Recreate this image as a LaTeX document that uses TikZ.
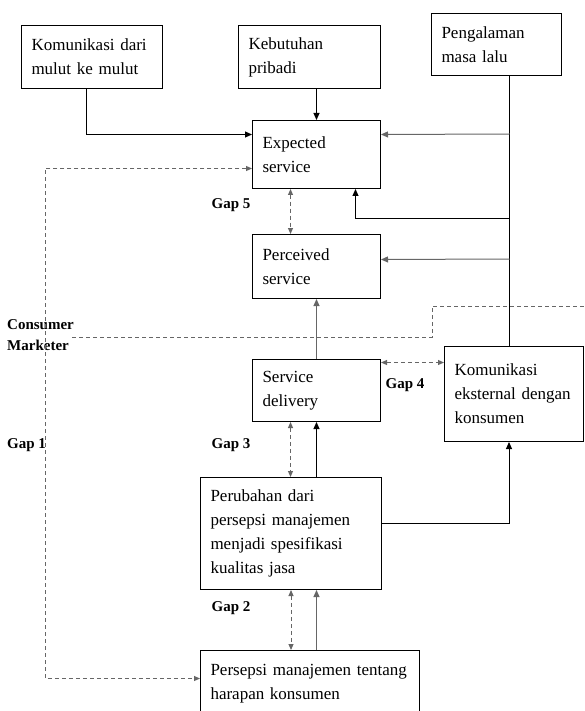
\documentclass[tikz,border=0pt]{standalone}
\usepackage{fontspec}
\setmainfont{Liberation Serif}
\usetikzlibrary{arrows.meta,positioning,calc}

\begin{document}
\begin{tikzpicture}[x=1pt,y=-1pt,
  box/.style={draw,line width=1pt,anchor=north west,align=left,inner xsep=10pt,inner ysep=2pt,font=\fontsize{17}{24}\selectfont},
  gap/.style={font=\bfseries\fontsize{15}{17}\selectfont,inner sep=0pt},
  arr/.style={-{Triangle[length=7pt,width=6pt]},line width=1pt},
  garr/.style={arr,gray!80!black},
  dline/.style={line width=1pt,black!60,dash pattern=on 4pt off 3pt},
  darr/.style={dline,{Triangle[length=6pt,width=5pt]}-{Triangle[length=6pt,width=5pt]}}
]
\useasboundingbox (0,0) rectangle (584,711);
\node[box,text width=121pt,minimum height=63pt] (mulut) at (21,25) {Komunikasi dari\\mulut ke mulut};
\node[box,text width=122pt,minimum height=63pt] (pribadi) at (238,25) {Kebutuhan\\pribadi};
\node[box,text width=110pt,minimum height=62pt] (lalu) at (431,13) {Pengalaman\\masa lalu};
\node[box,text width=108pt,minimum height=68pt] (expected) at (252,120) {Expected\\service};
\node[box,text width=108pt,minimum height=64pt] (perceived) at (252,234) {Perceived\\service};
\node[box,text width=108pt,minimum height=62pt] (delivery) at (252,359) {Service\\delivery};
\node[box,text width=119pt,minimum height=95pt] (eksternal) at (444,346) {Komunikasi\\eksternal dengan\\konsumen};
\node[box,text width=161pt,minimum height=112pt] (perubahan) at (200,477) {Perubahan dari\\persepsi manajemen\\menjadi spesifikasi\\kualitas jasa};
\node[box,text width=199pt,minimum height=66pt] (persepsi) at (200,650) {Persepsi manajemen tentang\\harapan konsumen};

\node[gap,anchor=west] (consumer) at (7,325) {Consumer};
\node[gap,anchor=west] (marketer) at (7,345) {Marketer};
\node[gap,anchor=west] (gap1) at (7,445) {Gap 1};
\node[gap] (gap2) at (231,608) {Gap 2};
\node[gap] (gap3) at (231,445) {Gap 3};
\node[gap] (gap4) at (405,385) {Gap 4};
\node[gap] (gap5) at (231,205) {Gap 5};

\coordinate (tk) at ([xshift=13pt]lalu.south);
\coordinate (g1) at (45,400);

\draw[arr] ([xshift=-6pt]mulut.south) |- ([yshift=20pt]expected.west);
\draw[arr] (expected.north |- pribadi.south) -- (expected.north);
\draw[line width=1pt] (tk) -- (tk |- eksternal.north);
\draw[garr] (tk |- 0,134) -- ([yshift=20pt]expected.east);
\draw[arr] (tk |- 0,219) -| ([xshift=39pt]expected.south);
\draw[garr] (tk |- 0,259) -- ([yshift=7pt]perceived.east);
\draw[darr] ([xshift=-26pt]expected.south) -- ([xshift=-26pt]perceived.north);
\draw[garr] (delivery.north) -- (perceived.south);
\draw[darr] ([yshift=28pt]delivery.east) -- ([yshift=28pt]delivery.east -| eksternal.west);
\draw[darr] ([xshift=-26pt]delivery.south) -- ([xshift=-26pt]delivery.south |- perubahan.north);
\draw[arr] (delivery.south |- perubahan.north) -- (delivery.south);
\draw[arr] ([yshift=10pt]perubahan.east) -| ([xshift=-5pt]eksternal.south);
\draw[darr] (perubahan.south) -- (perubahan.south |- persepsi.north);
\draw[garr] (delivery.south |- persepsi.north) -- (delivery.south |- perubahan.south);
\draw[darr] ([yshift=-14pt]expected.west) -| (g1) |- ([yshift=5pt]persepsi.west);
\draw[dline] (72,337) -- (432,337) -- (432,306) -- (584,306);
\end{tikzpicture}
\end{document}
